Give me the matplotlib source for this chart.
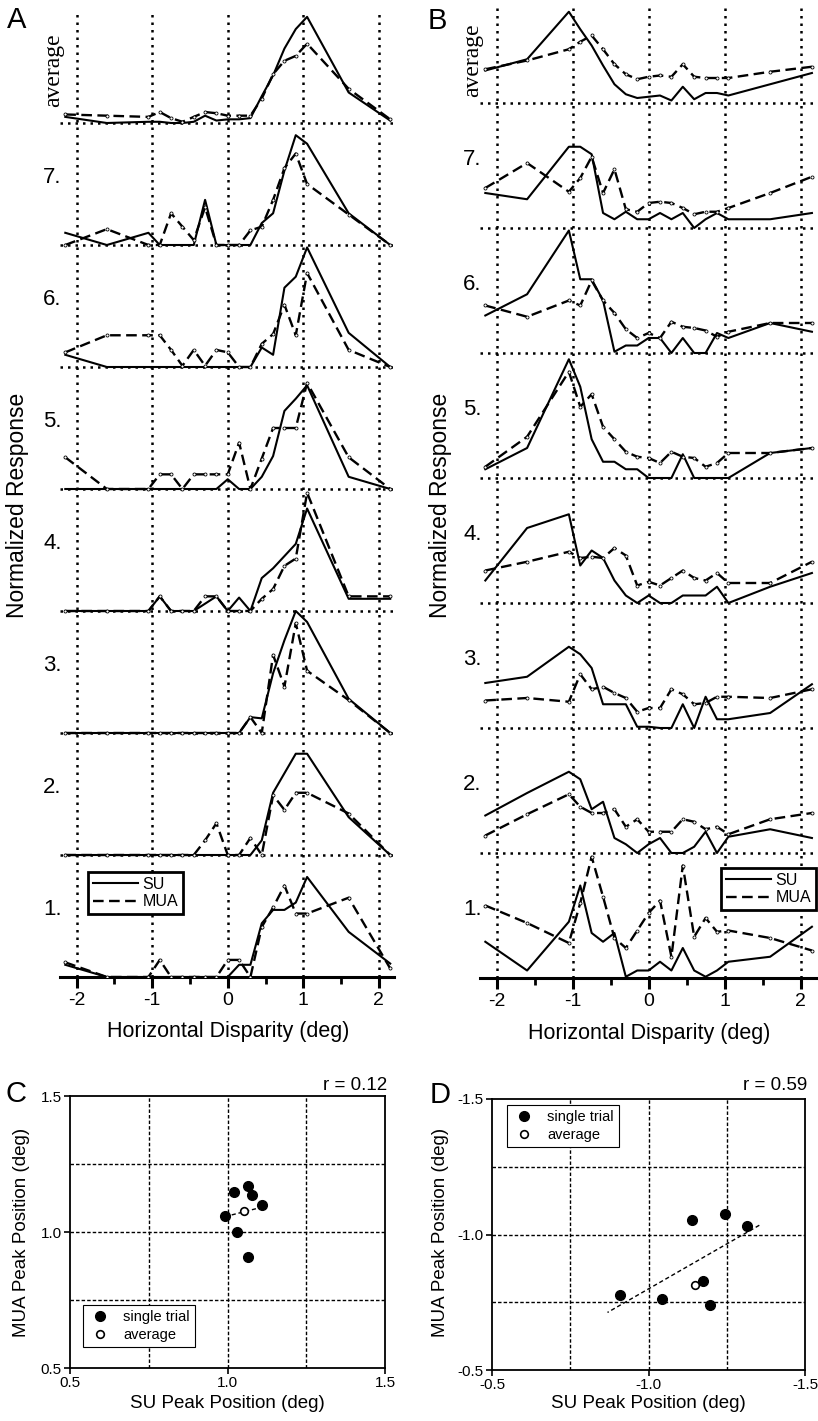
import numpy as np
import matplotlib.pyplot as plt
from matplotlib.lines import Line2D
from matplotlib.ticker import FormatStrFormatter, MultipleLocator

W, H = 818, 1421
plt.rcParams['font.family'] = ['Liberation Sans', 'DejaVu Sans']
plt.rcParams['axes.unicode_minus'] = False

# disparity values sampled in every tuning curve (deg)
disparity = [-2.15, -1.6, -1.05, -0.9, -0.75, -0.6, -0.45, -0.3, -0.15, 0.0,
             0.15, 0.3, 0.45, 0.6, 0.75, 0.9, 1.05, 1.6, 2.15]
row_names = ["1.", "2.", "3.", "4.", "5.", "6.", "7.", "average"]

# panel A, normalized responses, rows from bottom (1.) to top (average)
a_su = [
    [0.10, 0, 0, 0, 0, 0, 0, 0, 0, 0, 0.10, 0.10, 0.44, 0.55, 0.55, 0.61, 0.82, 0.37, 0.11],
    [0, 0, 0, 0, 0, 0, 0, 0, 0, 0, 0, 0, 0.12, 0.51, 0.67, 0.83, 0.83, 0.31, 0],
    [0, 0, 0, 0, 0, 0, 0, 0, 0, 0, 0, 0.13, 0.12, 0.49, 0.76, 1.00, 0.91, 0.28, 0],
    [0, 0, 0, 0.12, 0, 0, 0, 0.06, 0.12, 0, 0.11, 0, 0.27, 0.35, 0.45, 0.55, 0.84, 0.10, 0.10],
    [0, 0, 0, 0, 0, 0, 0, 0, 0, 0.08, 0, 0, 0.10, 0.27, 0.64, 0.74, 0.85, 0.10, 0],
    [0.10, 0, 0, 0, 0, 0, 0, 0, 0, 0, 0, 0, 0.16, 0.10, 0.65, 0.74, 0.98, 0.28, 0],
    [0.10, 0, 0.10, 0, 0, 0, 0, 0.37, 0, 0, 0, 0, 0.18, 0.26, 0.61, 0.90, 0.83, 0.26, 0],
    [0.05, 0, 0.01, 0.01, 0, 0, 0.01, 0.06, 0.02, 0.03, 0.03, 0.04, 0.22, 0.39, 0.61, 0.77, 0.87, 0.25, 0.02],
]
a_mua = [
    [0.12, 0, 0, 0.14, 0, 0, 0, 0, 0, 0.14, 0.14, 0, 0.41, 0.57, 0.75, 0.52, 0.52, 0.65, 0.07],
    [0, 0, 0, 0, 0, 0, 0, 0.12, 0.26, 0, 0, 0.14, 0, 0.49, 0.37, 0.51, 0.51, 0.34, 0],
    [0, 0, 0, 0, 0, 0, 0, 0, 0, 0, 0, 0.13, 0, 0.64, 0.38, 0.90, 0.51, 0.27, 0],
    [0, 0, 0, 0.12, 0, 0, 0, 0.12, 0.12, 0, 0, 0, 0.10, 0.18, 0.37, 0.43, 0.97, 0.12, 0.12],
    [0.26, 0, 0, 0.12, 0.12, 0, 0.12, 0.12, 0.12, 0.12, 0.38, 0, 0.25, 0.50, 0.50, 0.50, 0.87, 0.26, 0],
    [0.12, 0.26, 0.26, 0.26, 0.14, 0.01, 0.14, 0.01, 0.14, 0.12, 0, 0, 0.19, 0.27, 0.51, 0.26, 0.77, 0.14, 0],
    [0, 0.13, 0, 0, 0.26, 0.15, 0.04, 0.31, 0, 0, 0, 0.12, 0.15, 0.37, 0.63, 0.75, 0.50, 0.25, 0],
    [0.07, 0.06, 0.05, 0.09, 0.04, 0.01, 0.05, 0.09, 0.08, 0.06, 0.06, 0.06, 0.20, 0.40, 0.51, 0.55, 0.65, 0.28, 0.03],
]

# panel B
b_su = [
    [0.29, 0.06, 0.45, 0.74, 0.36, 0.29, 0.36, 0.01, 0.06, 0.06, 0.13, 0.06, 0.24, 0.06, 0.01, 0.06, 0.13, 0.17, 0.41],
    [0.30, 0.48, 0.65, 0.59, 0.35, 0.41, 0.12, 0.07, 0, 0.07, 0.12, 0, 0, 0.05, 0.17, 0, 0.13, 0.19, 0.12],
    [0.36, 0.41, 0.65, 0.59, 0.48, 0.19, 0.19, 0.19, 0.01, 0.01, 0, 0, 0.19, 0, 0.25, 0.07, 0.07, 0.12, 0.35],
    [0.18, 0.60, 0.71, 0.30, 0.42, 0.36, 0.18, 0.06, 0, 0.06, 0, 0, 0.06, 0.06, 0.06, 0.13, 0, 0.13, 0.24],
    [0.07, 0.24, 0.95, 0.73, 0.31, 0.13, 0.13, 0.07, 0.07, 0, 0, 0, 0.19, 0, 0, 0, 0, 0.20, 0.24],
    [0.30, 0.47, 0.98, 0.59, 0.59, 0.42, 0.01, 0.06, 0.06, 0.12, 0.12, 0, 0.12, 0, 0, 0.16, 0.12, 0.24, 0.17],
    [0.28, 0.23, 0.65, 0.65, 0.59, 0.12, 0.07, 0.13, 0.07, 0.07, 0.12, 0.07, 0.12, 0, 0.07, 0.12, 0.07, 0.07, 0.12],
    [0.26, 0.35, 0.73, 0.59, 0.46, 0.30, 0.15, 0.07, 0.04, 0.05, 0.06, 0.02, 0.13, 0.03, 0.08, 0.08, 0.06, 0.15, 0.24],
]
b_mua = [
    [0.58, 0.44, 0.28, 0.60, 0.97, 0.65, 0.32, 0.24, 0.38, 0.52, 0.62, 0.17, 0.90, 0.33, 0.48, 0.37, 0.38, 0.32, 0.22],
    [0.14, 0.31, 0.47, 0.37, 0.32, 0.32, 0.35, 0.21, 0.27, 0.17, 0.17, 0.17, 0.27, 0.25, 0.19, 0.21, 0.15, 0.27, 0.32],
    [0.22, 0.24, 0.21, 0.43, 0.31, 0.33, 0.28, 0.24, 0.13, 0.16, 0.16, 0.31, 0.27, 0.19, 0.20, 0.25, 0.25, 0.24, 0.31],
    [0.26, 0.33, 0.41, 0.36, 0.37, 0.36, 0.44, 0.38, 0.14, 0.17, 0.14, 0.20, 0.26, 0.20, 0.18, 0.24, 0.16, 0.16, 0.33],
    [0.09, 0.33, 0.85, 0.57, 0.67, 0.41, 0.31, 0.21, 0.17, 0.16, 0.12, 0.21, 0.17, 0.16, 0.09, 0.12, 0.20, 0.20, 0.24],
    [0.38, 0.29, 0.42, 0.38, 0.58, 0.42, 0.32, 0.19, 0.12, 0.16, 0.12, 0.25, 0.21, 0.20, 0.18, 0.13, 0.17, 0.24, 0.24],
    [0.32, 0.52, 0.29, 0.40, 0.57, 0.28, 0.47, 0.15, 0.13, 0.20, 0.21, 0.20, 0.16, 0.11, 0.13, 0.13, 0.16, 0.28, 0.41],
    [0.27, 0.34, 0.43, 0.49, 0.54, 0.43, 0.31, 0.23, 0.19, 0.21, 0.22, 0.21, 0.31, 0.21, 0.20, 0.20, 0.20, 0.25, 0.29],
]

# peak positions (deg), single trials and the average curve
c_su_peak = [0.992, 1.022, 1.066, 1.079, 1.110, 1.029, 1.064]
c_mua_peak = [1.059, 1.148, 1.169, 1.136, 1.099, 1.001, 0.907]
c_avg_peak = [1.053, 1.077]
d_su_peak = [-0.909, -1.042, -1.138, -1.244, -1.314, -1.173, -1.196]
d_mua_peak = [-0.777, -0.761, -1.054, -1.076, -1.031, -0.830, -0.740]
d_avg_peak = [-1.149, -0.814]

DOT = (0, (1.0, 2.0))
DASH = (0, (4.5, 2.3))


def box(left, top, right, bottom):
    """Pixel box (from top-left of image) to figure fraction rect."""
    return [left / W, 1 - bottom / H, (right - left) / W, (bottom - top) / H]


def fxy(x, y):
    return x / W, 1 - y / H


def tuning_panel(fig, rect, xlim, ytop, su, mua, avg_pos, legend_xy):
    ax = fig.add_axes(rect)
    ax.set_xlim(*xlim)
    ax.set_ylim(0, ytop)
    for side in ["left", "top", "right"]:
        ax.spines[side].set_visible(False)
    ax.spines["bottom"].set_linewidth(2.2)
    ax.set_yticks([])
    ax.set_xticks([-2, -1, 0, 1, 2])
    ax.xaxis.set_minor_locator(MultipleLocator(0.5))
    ax.tick_params(axis="x", which="major", direction="out", length=8, width=2.2,
                   labelsize=14, pad=3)
    ax.tick_params(axis="x", which="minor", direction="out", length=5, width=2)
    ax.grid(axis="x", which="major", color="k", lw=1.8, linestyle=DOT, zorder=1)
    ax.set_axisbelow(True)

    for i, (s, m) in enumerate(zip(su, mua)):
        if i > 0:
            ax.axhline(i, color="k", lw=1.8, linestyle=DOT, zorder=1)
        ax.plot(disparity, np.array(s) + i, color="k", lw=1.5, zorder=3)
        ax.plot(disparity, np.array(m) + i, color="k", lw=1.7, linestyle=DASH,
                marker="o", ms=2.2, mfc="white", mec="k", mew=0.6, zorder=3)
        if row_names[i] == "average":
            ax.text(avg_pos[0], i + avg_pos[1], row_names[i], rotation=90,
                    family=["Liberation Serif", "DejaVu Serif"], fontsize=17,
                    ha="center", va="center", clip_on=False)
        else:
            ax.text(xlim[0] + 0.02, i + 0.55, row_names[i], fontsize=16,
                    ha="right", va="center", clip_on=False)

    handles = [Line2D([], [], color="k", lw=1.5),
               Line2D([], [], color="k", lw=1.7, linestyle=DASH)]
    leg = fig.legend(handles, ["SU", "MUA"], loc="upper left",
                     bbox_to_anchor=fxy(*legend_xy), bbox_transform=fig.transFigure,
                     fontsize=11.5, handlelength=2.8, handletextpad=0.3,
                     labelspacing=0.15, borderpad=0.3, borderaxespad=0,
                     fancybox=False, framealpha=1, edgecolor="k")
    leg.get_frame().set_linewidth(2)
    return ax


def peak_panel(fig, rect, lims, su, mua, avg, r_text, r_xy, legend_xy, pad):
    ax = fig.add_axes(rect)
    ax.set_xlim(*lims)
    ax.set_ylim(*lims)
    ticks = [lims[0], (lims[0] + lims[1]) / 2, lims[1]]
    ax.set_xticks(ticks)
    ax.set_yticks(ticks)
    ax.xaxis.set_major_formatter(FormatStrFormatter("%.1f"))
    ax.yaxis.set_major_formatter(FormatStrFormatter("%.1f"))
    ax.tick_params(direction="out", length=4, width=1.2, labelsize=11, pad=2)
    for sp in ax.spines.values():
        sp.set_linewidth(1.3)
    step = (lims[1] - lims[0]) / 4
    for k in (1, 2, 3):
        ax.axvline(lims[0] + k * step, color="k", lw=1.0, linestyle=(0, (2.5, 1.5)), zorder=1)
        ax.axhline(lims[0] + k * step, color="k", lw=1.0, linestyle=(0, (2.5, 1.5)), zorder=1)

    slope, icpt = np.polyfit(su, mua, 1)
    lo, hi = min(su), max(su)
    xs = np.array([lo - pad, hi + pad])
    ax.plot(xs, slope * xs + icpt, color="k", lw=1.0, linestyle=(0, (3, 2)), zorder=2)
    ax.plot(su, mua, "o", color="k", ms=7, zorder=3)
    ax.plot(avg[0], avg[1], "o", ms=5.5, mfc="white", mec="k", mew=1.2, zorder=4)

    fig.text(*fxy(*r_xy), r_text, fontsize=13.5, ha="right", va="center")
    handles = [Line2D([], [], ls="none", marker="o", ms=7, color="k"),
               Line2D([], [], ls="none", marker="o", ms=5.5, mfc="white", mec="k", mew=1.2)]
    leg = fig.legend(handles, ["single trial", "average"], loc="upper left",
                     bbox_to_anchor=fxy(*legend_xy), bbox_transform=fig.transFigure,
                     fontsize=10.5, handlelength=1.6, handletextpad=0.8,
                     labelspacing=0.25, borderpad=0.35, borderaxespad=0,
                     fancybox=False, framealpha=1, edgecolor="k")
    leg.get_frame().set_linewidth(0.8)
    return ax


def main():
    fig = plt.figure(figsize=(W / 100, H / 100), dpi=100)

    tuning_panel(fig, box(60, 12, 394, 977), (-2.22, 2.2), (977 - 12) / 122,
                 a_su, a_mua, (-2.3, 0.43), (88, 872))
    tuning_panel(fig, box(480, 8, 818, 978), (-2.22, 2.23), (978 - 8) / 125,
                 b_su, b_mua, (-2.32, 0.34), (721, 868))

    peak_panel(fig, box(70, 1096, 385, 1368), (0.5, 1.5), c_su_peak, c_mua_peak,
               c_avg_peak, "r = 0.12", (387, 1085), (83, 1305), 0.0)
    peak_panel(fig, box(492, 1099, 805, 1370), (-0.5, -1.5), d_su_peak, d_mua_peak,
               d_avg_peak, "r = 0.59", (807, 1085), (507, 1105), 0.04)

    # axis titles
    for x, y in [(228, 1031), (649, 1033)]:
        fig.text(*fxy(x, y), "Horizontal Disparity (deg)", fontsize=15.5,
                 ha="center", va="center")
    for x, y in [(18, 505), (441, 505)]:
        fig.text(*fxy(x, y), "Normalized Response", fontsize=16.5, rotation=90,
                 ha="center", va="center")
    for x in (227, 648):
        fig.text(*fxy(x, 1404), "SU Peak Position (deg)", fontsize=13.5,
                 ha="center", va="center")
    for x in (22, 440):
        fig.text(*fxy(x, 1232), "MUA Peak Position (deg)", fontsize=13.5,
                 rotation=90, ha="center", va="center")

    # panel letters
    for letter, x, y in [("A", 17, 20), ("B", 437, 21), ("C", 16, 1094), ("D", 440, 1095)]:
        fig.text(*fxy(x, y), letter, fontsize=21, ha="center", va="center")

    fig.savefig("out.png", dpi=100)


if __name__ == "__main__":
    main()
